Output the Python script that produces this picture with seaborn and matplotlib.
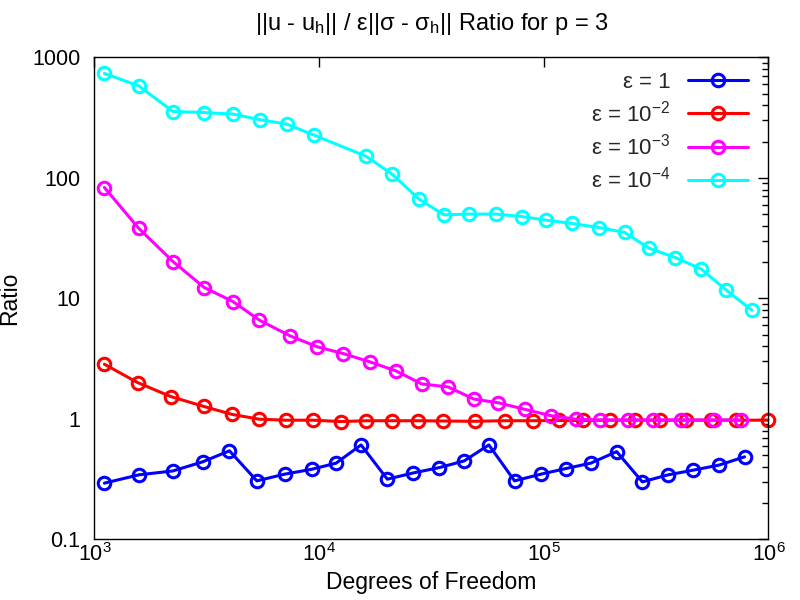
import matplotlib
matplotlib.use("Agg")
import matplotlib.pyplot as plt
import matplotlib.ticker as mticker
import numpy as np
import pandas as pd
import seaborn as sns

# values
labels = ["ε = 1",
          r"ε = 10$^{\mathregular{-2}}$",
          r"ε = 10$^{\mathregular{-3}}$",
          r"ε = 10$^{\mathregular{-4}}$"]
colors = ["#0000ff", "#ff0000", "#ff00ff", "#00ffff"]

dof_eps1 = [1108, 1574, 2239, 3029, 3992, 5284, 7040, 9290, 11900, 15370,
            20120, 26250, 34240, 44240, 56950, 74100, 97300, 125300, 161800,
            211000, 274600, 356800, 460800, 601200, 782200]
ratio_eps1 = [0.293, 0.343, 0.370, 0.440, 0.543, 0.306, 0.348, 0.382, 0.429,
              0.608, 0.316, 0.356, 0.394, 0.448, 0.608, 0.306, 0.348, 0.387,
              0.429, 0.535, 0.300, 0.343, 0.375, 0.413, 0.484]

dof_eps2 = [1108, 1557, 2192, 3060, 4093, 5412, 7112, 9434, 12490, 16180,
            21180, 27630, 35680, 49360, 67100, 89100, 116950, 149500, 196500,
            253800, 327700, 430700, 556300, 718600, 995000]
ratio_eps2 = [2.84, 2.00, 1.53, 1.27, 1.09, 0.994, 0.975, 0.975, 0.95, 0.965,
              0.965, 0.965, 0.96, 0.955, 0.965, 0.965, 0.97, 0.97, 0.975,
              0.975, 0.975, 0.975, 0.975, 0.975, 0.975]

dof_eps3 = [1108, 1573, 2238, 3082, 4134, 5429, 7432, 9827, 12820, 16850,
            21990, 28600, 37550, 48850, 62660, 82320, 108200, 138800, 177400,
            236900, 306000, 409300, 569500, 756400]
ratio_eps3 = [83.1, 38.2, 20.2, 12.3, 9.41, 6.59, 4.88, 3.96, 3.48, 2.97,
              2.50, 1.95, 1.84, 1.46, 1.36, 1.20, 1.06, 0.994, 0.98, 0.98,
              0.98, 0.98, 0.98, 0.98]

dof_eps4 = [1108, 1573, 2238, 3082, 4134, 5468, 7185, 9501, 16180, 21180,
            27830, 35940, 46560, 61190, 79590, 102100, 133600, 175500,
            229100, 293800, 384900, 502200, 648600, 843100]
ratio_eps4 = [734, 580, 355, 348, 338, 303, 279, 226, 151, 107, 66.6, 49.3,
              50.0, 50.0, 47.7, 44.6, 41.8, 38.7, 35.2, 26.1, 21.8, 17.5,
              11.7, 7.98]

xs = [dof_eps1, dof_eps2, dof_eps3, dof_eps4]
ys = [ratio_eps1, ratio_eps2, ratio_eps3, ratio_eps4]
df = pd.concat([pd.DataFrame({"dof": x, "ratio": y, "eps": lab})
                for x, y, lab in zip(xs, ys, labels)], ignore_index=True)

sns.set_theme(style="white")
plt.rcParams["font.family"] = ["Liberation Sans", "DejaVu Sans"]
plt.rcParams["mathtext.fontset"] = "custom"
plt.rcParams["mathtext.rm"] = "Liberation Sans"
plt.rcParams["mathtext.it"] = "Liberation Sans:italic"
plt.rcParams["axes.unicode_minus"] = False

fig = plt.figure(figsize=(8, 6), dpi=100)
ax = fig.add_axes([0.118, 0.101, 0.8426, 0.8035])

sns.lineplot(data=df, x="dof", y="ratio", hue="eps", hue_order=labels,
             palette=colors, marker="o", sort=False, errorbar=None,
             legend=False, linewidth=2.2, markersize=9, ax=ax)

for line in ax.lines:
    c = line.get_color()
    line.set_markerfacecolor("none")
    line.set_markeredgecolor(c)
    line.set_markeredgewidth(2.2)
    line.set_clip_on(False)

ax.set_xscale("log")
ax.set_yscale("log")
ax.set_xlim(1e3, 1e6)
ax.set_ylim(0.1, 1000)

ax.xaxis.set_major_locator(mticker.LogLocator(base=10, numticks=10))
ax.xaxis.set_minor_locator(mticker.NullLocator())
ax.yaxis.set_major_locator(mticker.FixedLocator([0.1, 1, 10, 100, 1000]))
ax.yaxis.set_major_formatter(mticker.FixedFormatter(["0.1", "1", "10", "100", "1000"]))
ax.yaxis.set_minor_locator(mticker.LogLocator(base=10, subs=np.arange(2, 10), numticks=20))
ax.yaxis.set_minor_formatter(mticker.NullFormatter())

ax.tick_params(which="both", direction="in", top=True, right=True,
               color="black", labelsize=15.5, labelcolor="black")
ax.tick_params(which="major", length=7, width=1)
ax.tick_params(which="minor", length=4, width=1)
ax.tick_params(axis="y", which="major", pad=10)
ax.tick_params(axis="x", which="major", pad=3)
for sp in ax.spines.values():
    sp.set_color("black")
    sp.set_linewidth(1.0)

ax.set_xlabel("Degrees of Freedom", fontsize=16.5, color="black", labelpad=3)
ax.set_ylabel("Ratio", fontsize=16.5, color="black")
ax.yaxis.set_label_coords(-0.108, 0.5)
ax.set_title(r"||u - u$_\mathregular{h}$|| / ε||σ - σ$_\mathregular{h}$|| Ratio for p = 3",
             fontsize=17, color="black", pad=20)

ax.legend(handles=ax.lines, labels=labels, loc="upper right",
          bbox_to_anchor=(0.983, 0.988), markerfirst=False, frameon=False,
          fontsize=16, handlelength=2.7, handletextpad=0.8,
          labelspacing=0.33, borderaxespad=0.0)

fig.savefig("out.png", dpi=100)
